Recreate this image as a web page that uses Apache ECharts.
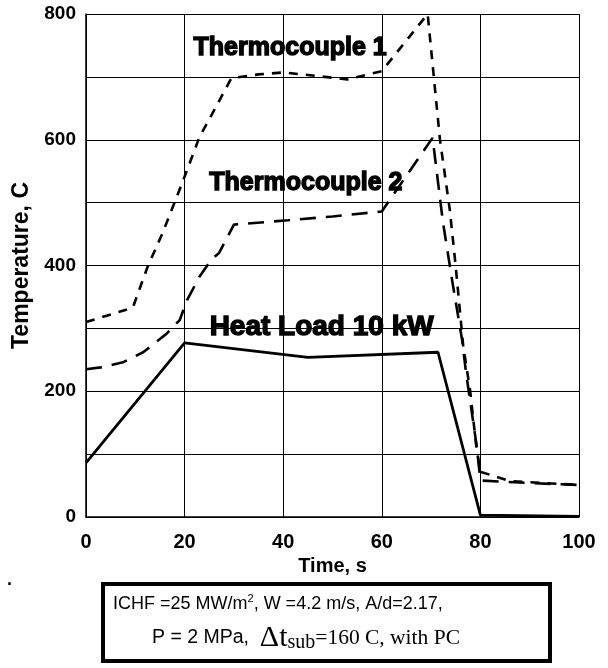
<!DOCTYPE html>
<html>
<head>
<meta charset="utf-8">
<script src="https://cdn.jsdelivr.net/npm/echarts@6/dist/echarts.min.js"></script>
<style>
html,body{margin:0;padding:0;background:#fff;}
#chart{width:608px;height:668px;}
</style>
</head>
<body>
<div id="chart"></div>
<script>
// ---- data ----
const heatLoad = [[0,86],[20,277],[45,254],[71.4,262],[80,3],[100,1]];
const thermo1 = [[0,310],[9.5,333],[12.5,398],[15.5,451],[19.5,531],[23,604],[26,647],[29.5,698],[35,704],[40,707],[45,703],[53,696],[60,709],[69.3,800],[71.8,600],[73.8,488],[75,398],[76.5,273],[77.9,202],[79.2,110],[80,72],[86,57],[100,51]];
const thermo2 = [[0,235],[3,238],[7.5,246],[11.6,262],[16.4,292],[19,313],[20.5,345],[23,382],[25.5,410],[27,420],[30,465],[41,472],[50,478],[60,486],[70.3,603],[72.4,469],[74.4,370],[76.3,281],[77.1,229],[79.3,110],[80,58],[90,54],[100,51]];
const seriesLabels = [
  {text:'Thermocouple 1', coord:[41.4,746]},
  {text:'Thermocouple 2', coord:[44.6,531]},
  {text:'Heat Load 10 kW', coord:[47.8,302]}
];
const xTicks = [0,20,40,60,80,100];
const yTickLabels = [0,200,400,600,800];
const xTitle = 'Time, s';
const yTitle = 'Temperature, C';

const chart = echarts.init(document.getElementById('chart'), null, {renderer:'canvas'});
const F = 'Arial, "Liberation Sans", Helvetica, sans-serif';
const SERIF = '"Liberation Serif", "Times New Roman", serif';

function lbl(i, size){
  return {
    data:[{coord:seriesLabels[i].coord, name:seriesLabels[i].text}],
    symbol:'circle', symbolSize:1, itemStyle:{color:'rgba(0,0,0,0)'},
    label:{show:true, position:'inside', formatter:'{b}',
      fontFamily:F, fontWeight:'bold', fontSize:size, color:'#000',
      textBorderColor:'#000', textBorderWidth:1.4},
    silent:true
  };
}

chart.setOption({
  animation:false,
  backgroundColor:'#fff',
  grid:{left:86, right:29, top:14, bottom:151},
  xAxis:{
    type:'value', min:xTicks[0], max:xTicks[xTicks.length-1], interval:20,
    name:xTitle, nameLocation:'middle', nameGap:39,
    nameTextStyle:{fontFamily:F, fontWeight:'bold', fontSize:20, color:'#000'},
    axisLine:{show:true, onZero:false, lineStyle:{color:'#000', width:1.5}},
    axisTick:{show:false},
    axisLabel:{fontFamily:F, fontWeight:'bold', fontSize:20, color:'#000', margin:15},
    splitLine:{show:true, lineStyle:{color:'#000', width:1}}
  },
  yAxis:{
    type:'value', min:0, max:800, interval:100,
    name:yTitle, nameLocation:'middle', nameGap:49,
    nameTextStyle:{fontFamily:F, fontWeight:'bold', fontSize:23, color:'#000'},
    axisLine:{show:true, onZero:false, lineStyle:{color:'#000', width:1.5}},
    axisTick:{show:false},
    axisLabel:{fontFamily:F, fontWeight:'bold', fontSize:19, color:'#000', margin:10,
      formatter:v => yTickLabels.indexOf(v) >= 0 ? String(v) : ''},
    splitLine:{show:true, lineStyle:{color:'#000', width:1}}
  },
  series:[
    {name:'Heat Load', type:'line', data:heatLoad, symbol:'none', z:5,
     lineStyle:{color:'#000', width:2.8, type:'solid'}, markPoint:lbl(2, 28)},
    {name:'Thermocouple 1', type:'line', data:thermo1, symbol:'none', z:5,
     lineStyle:{color:'#000', width:2.6, type:[9,8]}, markPoint:lbl(0, 25)},
    {name:'Thermocouple 2', type:'line', data:thermo2, symbol:'none', z:5,
     lineStyle:{color:'#000', width:2.6, type:[16,10]}, markPoint:lbl(1, 25)}
  ],
  graphic:[
    {type:'text', left:7, top:571, style:{text:'.', font:'bold 18px Arial', fill:'#000'}},
    {type:'rect', shape:{x:103, y:584, width:447, height:77}, style:{fill:'#fff', stroke:'#000', lineWidth:4}},
    {type:'text', x:113, y:604, style:{
      text:'{a|ICHF =25 MW/m}{s|2}{a|, W =4.2 m/s, A/d=2.17,}',
      textVerticalAlign:'middle', textAlign:'left',
      rich:{
        a:{fontFamily:F, fontSize:18, fill:'#000', color:'#000'},
        s:{fontFamily:F, fontSize:11, fill:'#000', color:'#000', verticalAlign:'top', padding:[0,0,10,0]}
      }}},
    {type:'text', x:306, y:638, style:{
      text:'{a|P = 2 MPa,  }{d|Δt}{b|sub}{c|=160 C, with PC}',
      textVerticalAlign:'middle', textAlign:'center',
      rich:{
        a:{fontFamily:F, fontSize:19.5, fill:'#000', color:'#000'},
        d:{fontFamily:SERIF, fontSize:30, fill:'#000', color:'#000'},
        b:{fontFamily:SERIF, fontSize:20, fill:'#000', color:'#000', padding:[10,0,0,0]},
        c:{fontFamily:SERIF, fontSize:21.5, fill:'#000', color:'#000'}
      }}}
  ]
});
</script>
</body>
</html>
